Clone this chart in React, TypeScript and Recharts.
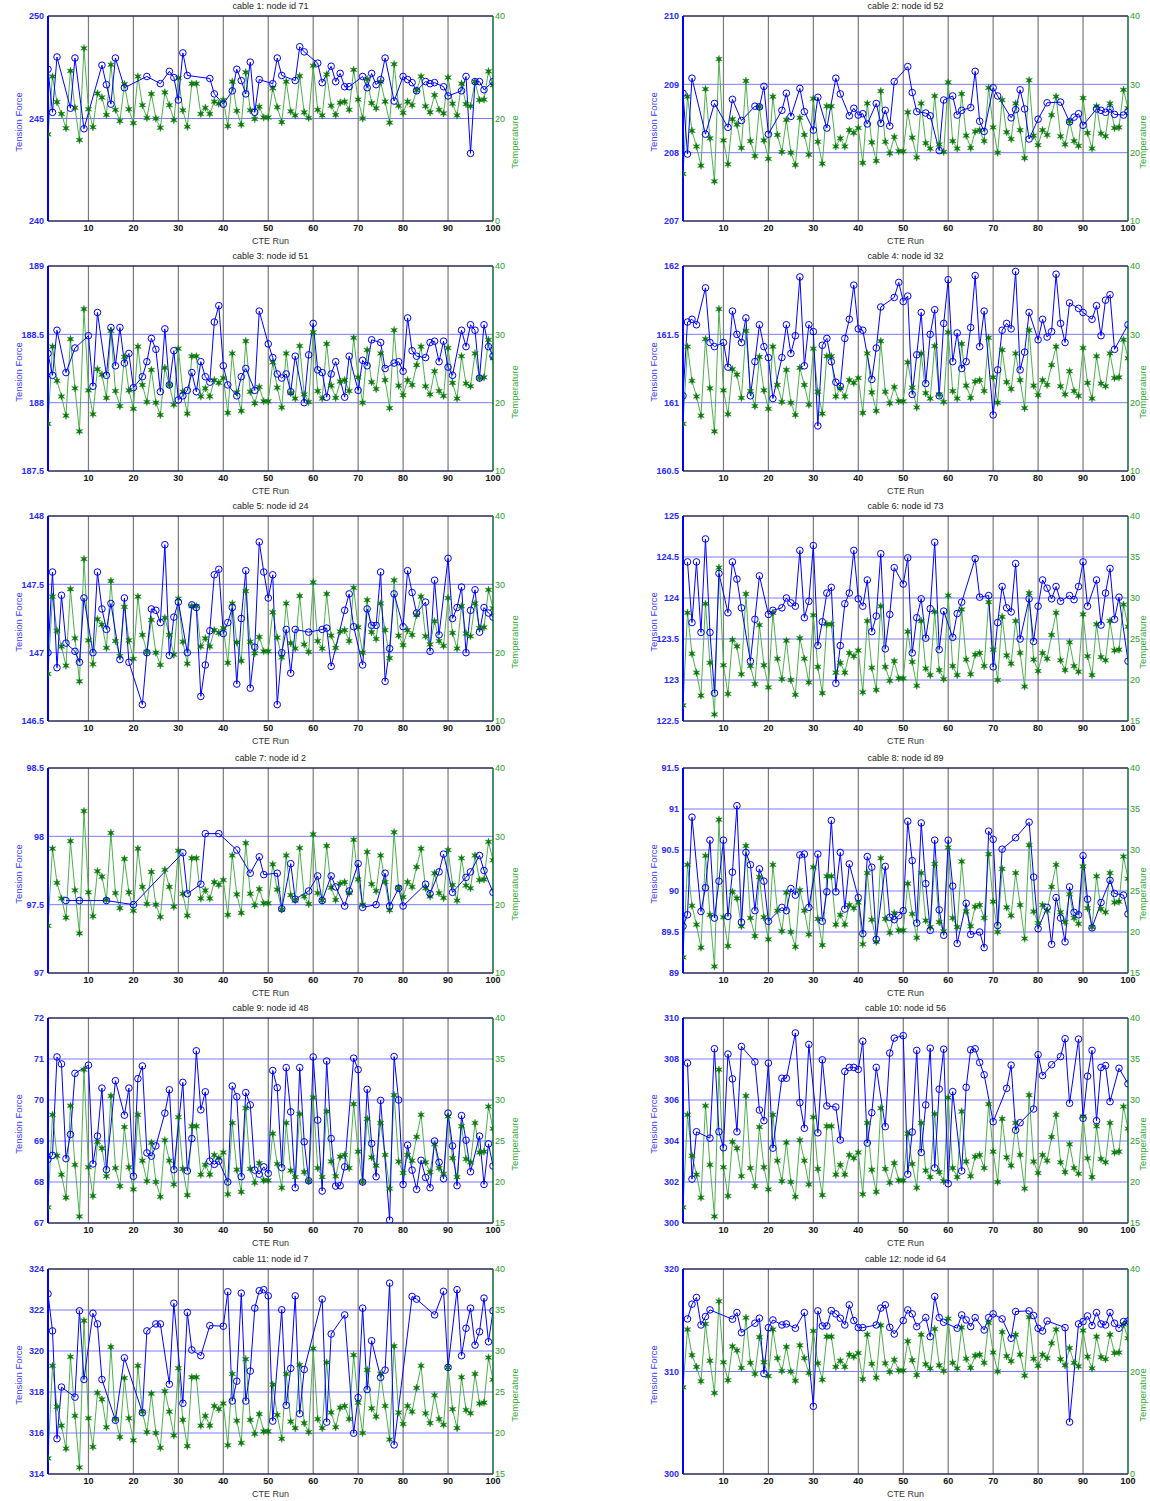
import { CartesianGrid, Line, LineChart, ReferenceLine, XAxis, YAxis } from "recharts";

// CTE runs 1..100 on the x axis
const runs = Array.from({ length: 100 }, (_, i) => i + 1);
const xTicks = [10, 20, 30, 40, 50, 60, 70, 80, 90, 100];
const gridRuns = [10, 20, 30, 40, 50, 60, 70, 80, 90];

// temperature is the same for every cable
const temperature = [
  16.9, 28.2, 23.2, 20.9, 18.1, 29.3, 22.1, 15.8, 33.7, 21.8,
  18.3, 24.9, 24.1, 20.7, 30.5, 21.7, 19.5, 26.7, 21.8, 19.1,
  28.2, 22.6, 20.1, 24.8, 20.0, 18.2, 25.1, 22.6, 19.7, 27.9,
  21.6, 18.4, 26.8, 26.8, 20.9, 22.1, 20.9, 23.3, 22.9, 23.6,
  18.5, 27.2, 21.5, 18.8, 29.0, 21.6, 19.9, 22.3, 20.2, 20.2,
  25.9, 22.2, 19.3, 27.2, 21.4, 20.6, 28.3, 21.2, 20.1, 30.3,
  21.7, 20.6, 28.6, 22.5, 20.7, 23.1, 23.3, 21.7, 29.5, 23.7,
  20.0, 27.7, 23.0, 22.0, 27.2, 23.3, 19.2, 30.6, 22.5, 21.1,
  23.3, 22.6, 25.5, 28.2, 22.4, 21.2, 24.6, 21.7, 21.0, 28.0,
  22.9, 20.6, 26.8, 22.8, 22.4, 27.2, 23.6, 23.7, 29.2, 26.5,
];

const tempTicksA = [0, 20, 40];
const tempTicksB = [10, 20, 30, 40];
const tempTicksC = [15, 20, 25, 30, 35, 40];

// tension force per cable, [run, value] (runs without a reading are left out)
const tension1 = [
  [1, 247.4], [2, 245.3], [3, 248.0], [6, 245.5], [7, 247.95], [9, 244.5], [13, 247.6], [14, 246.65],
  [15, 245.7], [16, 247.95], [18, 246.5], [23, 247.05], [26, 246.7], [28, 247.3], [29, 247.0], [30, 245.9],
  [31, 248.2], [32, 247.1], [37, 246.95], [38, 246.2], [40, 245.7], [42, 246.35], [43, 247.4], [44, 246.85],
  [45, 246.2], [46, 247.75], [47, 245.3], [48, 246.9], [51, 246.7], [52, 247.95], [53, 247.1], [56, 246.85],
  [57, 248.5], [58, 248.25], [61, 247.7], [62, 246.75], [64, 247.55], [65, 246.8], [66, 247.2], [67, 246.55],
  [68, 246.55], [71, 247.05], [72, 246.5], [73, 247.2], [74, 246.65], [75, 246.9], [76, 247.95], [78, 245.85],
  [80, 247.05], [81, 246.9], [82, 246.75], [83, 246.35], [85, 246.8], [86, 246.7], [87, 246.75], [89, 246.55],
  [90, 246.1], [93, 246.35], [94, 247.05], [95, 243.3], [96, 246.8], [97, 246.8], [98, 246.4], [100, 246.8],
];
const tension2 = [
  [1, 208.87], [2, 207.98], [3, 209.09], [6, 208.27], [8, 208.72], [11, 208.37], [12, 208.78], [14, 208.47],
  [17, 208.68], [18, 208.67], [19, 208.97], [20, 208.27], [23, 208.62], [24, 208.87], [25, 208.53], [27, 208.94],
  [28, 208.6], [30, 208.33], [31, 208.81], [33, 208.36], [35, 209.09], [36, 208.86], [38, 208.54], [39, 208.65],
  [40, 208.55], [41, 208.57], [42, 208.42], [44, 208.72], [45, 208.43], [46, 208.62], [47, 208.39], [48, 209.04],
  [51, 209.26], [52, 208.88], [53, 208.6], [55, 208.58], [56, 208.54], [58, 208.03], [59, 208.77], [61, 208.83],
  [62, 208.55], [63, 208.62], [65, 208.66], [66, 209.19], [67, 208.46], [68, 208.31], [70, 208.95], [71, 208.83],
  [74, 208.51], [75, 208.63], [76, 208.92], [77, 208.64], [78, 208.2], [80, 208.49], [82, 208.73], [85, 208.74],
  [87, 208.45], [88, 208.52], [89, 208.57], [90, 208.4], [93, 208.64], [94, 208.62], [95, 208.59], [96, 208.64],
  [97, 208.56], [99, 208.55], [100, 208.6],
];
const tension3 = [
  [1, 188.36], [2, 188.2], [3, 188.53], [5, 188.22], [7, 188.4], [10, 188.49], [11, 188.12], [12, 188.66],
  [14, 188.2], [15, 188.55], [16, 188.27], [17, 188.55], [18, 188.29], [19, 188.36], [20, 188.11], [22, 188.19],
  [23, 188.3], [24, 188.47], [25, 188.39], [26, 188.08], [27, 188.54], [28, 188.13], [29, 188.38], [30, 188.02],
  [31, 188.05], [32, 188.09], [33, 188.22], [34, 188.08], [35, 188.3], [36, 188.19], [37, 188.15], [38, 188.59],
  [39, 188.71], [40, 188.27], [41, 188.13], [43, 188.05], [44, 188.19], [45, 188.25], [47, 188.09], [48, 188.67],
  [50, 188.43], [51, 188.33], [52, 188.21], [53, 188.18], [54, 188.21], [55, 188.08], [56, 188.34], [58, 188.0],
  [59, 188.35], [60, 188.58], [61, 188.24], [62, 188.22], [63, 188.04], [64, 188.21], [65, 188.3], [67, 188.04],
  [68, 188.34], [70, 188.09], [71, 188.31], [72, 188.27], [73, 188.46], [75, 188.44], [76, 188.25], [78, 188.29],
  [79, 188.3], [80, 188.23], [81, 188.62], [82, 188.38], [83, 188.34], [85, 188.33], [86, 188.44], [87, 188.45],
  [88, 188.3], [89, 188.45], [90, 188.26], [91, 188.2], [93, 188.53], [94, 188.41], [95, 188.57], [96, 188.53],
  [97, 188.18], [98, 188.57], [99, 188.41], [100, 188.34],
];
const tension4 = [
  [1, 161.05], [2, 161.59], [3, 161.61], [4, 161.57], [6, 161.84], [7, 161.44], [8, 161.41], [10, 161.44],
  [11, 161.26], [12, 161.67], [13, 161.5], [14, 161.44], [15, 161.62], [16, 161.05], [17, 161.3], [18, 161.57],
  [19, 161.41], [20, 161.33], [21, 161.03], [23, 161.33], [24, 161.57], [25, 161.36], [26, 161.49], [27, 161.92],
  [28, 161.27], [29, 161.57], [30, 161.52], [31, 160.83], [32, 161.42], [33, 161.47], [34, 161.3], [35, 161.15],
  [36, 161.12], [37, 161.47], [38, 161.61], [39, 161.86], [40, 161.54], [41, 161.53], [43, 161.17], [44, 161.4],
  [45, 161.7], [48, 161.77], [49, 161.88], [50, 161.74], [51, 161.78], [52, 161.06], [53, 161.35], [54, 161.66],
  [55, 161.14], [56, 161.5], [57, 161.68], [58, 161.05], [59, 161.58], [60, 161.9], [61, 161.3], [62, 161.51],
  [63, 161.25], [64, 161.3], [65, 161.55], [66, 161.93], [67, 161.41], [68, 161.67], [70, 160.91], [71, 161.24],
  [72, 161.53], [73, 161.58], [74, 161.54], [75, 161.96], [76, 161.24], [77, 161.37], [78, 161.66], [80, 161.46],
  [81, 161.61], [82, 161.48], [83, 161.52], [84, 161.94], [85, 161.58], [86, 161.44], [87, 161.73], [89, 161.69],
  [90, 161.66], [92, 161.61], [93, 161.71], [94, 161.49], [95, 161.75], [96, 161.79], [97, 161.39], [100, 161.57],
];
const tension5 = [
  [1, 147.0], [2, 147.59], [3, 146.89], [4, 147.42], [5, 147.07], [7, 147.01], [8, 146.93], [9, 147.4],
  [11, 147.0], [12, 147.59], [13, 147.32], [14, 147.17], [15, 147.36], [17, 146.95], [18, 147.4], [19, 146.93],
  [22, 146.62], [23, 147.0], [24, 147.32], [25, 147.31], [26, 147.22], [27, 147.79], [28, 146.98], [29, 147.26],
  [30, 147.37], [32, 147.0], [33, 147.35], [34, 147.33], [35, 146.68], [36, 146.91], [37, 147.16], [38, 147.57],
  [39, 147.61], [40, 147.14], [41, 147.22], [42, 147.33], [43, 146.77], [44, 147.25], [45, 147.6], [46, 146.74],
  [47, 147.04], [48, 147.81], [49, 147.59], [50, 147.4], [51, 147.57], [52, 146.62], [53, 147.0], [54, 147.17],
  [55, 146.85], [56, 147.17], [59, 147.15], [62, 147.17], [63, 147.18], [64, 146.9], [67, 147.31], [68, 147.43],
  [69, 147.19], [71, 146.91], [72, 147.32], [73, 147.2], [74, 147.2], [75, 147.59], [76, 146.79], [77, 147.03],
  [78, 147.43], [80, 147.19], [81, 147.6], [82, 147.44], [83, 147.29], [85, 147.37], [86, 147.01], [87, 147.53],
  [88, 147.13], [90, 147.69], [91, 147.25], [92, 147.33], [93, 147.48], [94, 147.0], [95, 147.31], [96, 147.46],
  [97, 147.15], [98, 147.33], [99, 147.29], [100, 147.26],
];
const tension6 = [
  [2, 124.44], [3, 123.7], [4, 124.44], [5, 123.58], [6, 124.72], [7, 123.58], [8, 122.84], [9, 124.3],
  [11, 123.82], [12, 124.44], [13, 124.23], [14, 123.88], [16, 123.23], [17, 123.74], [18, 124.27], [20, 123.8],
  [21, 123.85], [23, 123.88], [24, 124.0], [25, 123.94], [26, 123.9], [27, 124.58], [28, 123.76], [29, 123.96],
  [30, 124.64], [31, 123.42], [32, 123.71], [33, 124.06], [34, 124.13], [35, 122.96], [36, 123.42], [37, 123.93],
  [38, 124.06], [39, 124.58], [40, 123.99], [41, 123.9], [42, 124.22], [43, 123.59], [44, 123.78], [45, 124.54],
  [46, 123.38], [47, 123.8], [48, 124.37], [50, 124.17], [51, 124.49], [52, 123.33], [53, 123.76], [54, 123.99],
  [55, 123.51], [56, 123.87], [57, 124.68], [58, 123.37], [59, 123.84], [61, 123.52], [62, 123.81], [63, 123.95],
  [66, 124.48], [67, 124.01], [69, 124.03], [70, 123.16], [71, 123.7], [72, 124.14], [73, 123.88], [74, 123.83],
  [75, 124.42], [76, 123.5], [78, 123.99], [79, 123.47], [80, 123.9], [81, 124.22], [82, 124.12], [83, 123.99],
  [84, 124.14], [85, 123.96], [87, 124.03], [88, 123.98], [89, 124.14], [90, 124.44], [91, 123.9], [93, 124.22],
  [94, 123.67], [95, 124.06], [96, 124.36], [97, 123.74], [98, 124.01], [100, 123.23],
];
const tension7 = [
  [5, 97.53], [8, 97.53], [14, 97.53], [20, 97.5], [31, 97.88], [32, 97.58], [35, 97.65], [36, 98.02],
  [39, 98.02], [43, 97.9], [46, 97.73], [48, 97.85], [49, 97.72], [52, 97.73], [53, 97.47], [55, 97.8],
  [56, 97.54], [59, 97.6], [61, 97.71], [62, 97.53], [64, 97.71], [65, 97.63], [67, 97.49], [68, 97.6],
  [70, 97.8], [71, 97.48], [74, 97.5], [76, 97.73], [77, 97.49], [79, 97.62], [80, 97.49], [85, 97.65],
  [86, 97.58], [88, 97.74], [89, 97.87], [91, 97.59], [94, 97.7], [95, 97.74], [97, 97.86], [98, 97.75],
  [100, 97.59],
];
const tension8 = [
  [1, 89.57], [2, 89.71], [3, 90.9], [5, 89.75], [6, 90.04], [7, 90.62], [8, 89.67], [9, 90.12],
  [10, 90.62], [11, 89.69], [12, 90.23], [13, 91.04], [14, 89.62], [15, 90.47], [16, 90.32], [17, 89.76],
  [18, 90.27], [19, 90.12], [20, 89.63], [23, 89.8], [24, 89.76], [25, 90.03], [26, 89.95], [27, 90.44],
  [28, 90.45], [29, 89.8], [31, 90.45], [32, 89.63], [33, 89.99], [34, 90.86], [35, 89.99], [36, 90.47],
  [37, 89.78], [38, 90.33], [40, 89.92], [41, 89.48], [42, 90.42], [43, 90.29], [44, 89.41], [46, 90.3],
  [47, 89.68], [48, 89.65], [49, 89.7], [50, 89.76], [51, 90.85], [52, 90.37], [53, 89.61], [54, 90.83],
  [55, 90.09], [56, 89.52], [57, 90.62], [58, 89.77], [59, 89.46], [60, 90.62], [61, 90.06], [62, 89.36],
  [64, 89.85], [65, 89.47], [67, 89.5], [68, 89.31], [69, 90.73], [70, 90.63], [71, 89.58], [72, 90.51],
  [75, 90.65], [78, 90.84], [79, 90.17], [80, 89.54], [82, 89.8], [83, 89.35], [84, 89.92], [85, 89.67],
  [86, 89.38], [87, 90.05], [88, 89.74], [89, 89.71], [90, 90.43], [91, 89.9], [92, 89.55], [94, 89.86],
  [96, 90.13], [97, 89.97], [99, 89.95], [100, 89.72],
];
const tension9 = [
  [1, 68.55], [2, 68.65], [3, 71.05], [4, 70.88], [5, 68.57], [6, 69.16], [7, 70.65], [10, 70.85],
  [11, 68.44], [12, 69.12], [13, 70.29], [14, 68.3], [16, 70.47], [18, 69.63], [19, 70.29], [20, 68.14],
  [21, 70.52], [22, 70.83], [23, 68.71], [24, 68.63], [25, 68.88], [27, 69.68], [28, 70.25], [29, 68.3],
  [31, 70.43], [32, 68.27], [33, 69.06], [34, 71.2], [35, 69.76], [36, 70.2], [37, 68.51], [38, 68.43],
  [39, 68.51], [41, 68.0], [42, 70.34], [43, 70.08], [44, 68.13], [45, 70.18], [46, 69.88], [47, 68.29],
  [48, 68.19], [49, 68.37], [50, 68.21], [51, 70.72], [52, 70.3], [53, 68.35], [54, 70.79], [55, 69.71],
  [56, 67.86], [57, 70.79], [58, 68.98], [59, 68.03], [60, 71.05], [61, 69.51], [62, 67.78], [63, 70.95],
  [64, 69.06], [65, 67.9], [66, 67.91], [67, 68.37], [69, 71.02], [70, 70.74], [71, 68.0], [72, 70.26],
  [73, 68.94], [74, 68.13], [75, 69.99], [77, 67.07], [78, 71.06], [79, 70.0], [80, 67.94], [81, 68.9],
  [82, 68.29], [83, 67.82], [84, 68.53], [85, 68.11], [86, 67.86], [87, 69.0], [88, 68.48], [89, 68.08],
  [90, 69.68], [91, 68.88], [92, 67.91], [93, 69.62], [94, 69.02], [95, 68.25], [97, 69.12], [98, 67.94],
  [99, 68.93], [100, 68.39],
];
const tension10 = [
  [2, 307.8], [3, 302.14], [4, 304.45], [7, 304.14], [8, 308.5], [9, 304.45], [10, 303.67], [11, 308.24],
  [12, 307.03], [13, 304.45], [14, 308.61], [17, 307.86], [18, 305.51], [19, 304.99], [20, 307.8], [21, 303.65],
  [23, 307.06], [24, 307.06], [26, 309.27], [27, 305.87], [28, 304.62], [29, 308.71], [31, 304.4], [32, 307.96],
  [33, 305.71], [35, 305.66], [36, 304.05], [37, 307.39], [38, 307.59], [39, 307.59], [40, 307.49], [41, 308.87],
  [42, 303.9], [43, 305.38], [44, 307.59], [46, 304.7], [47, 308.29], [48, 309.02], [50, 309.14], [51, 302.38],
  [52, 304.44], [53, 308.42], [54, 303.44], [55, 305.76], [56, 308.53], [57, 302.69], [58, 306.53], [59, 308.48],
  [60, 301.92], [61, 306.41], [63, 302.54], [64, 306.62], [65, 308.45], [66, 308.5], [67, 307.83], [68, 307.23],
  [70, 304.94], [73, 306.57], [74, 307.7], [75, 304.53], [76, 304.89], [79, 305.56], [80, 308.21], [81, 307.19],
  [83, 307.72], [85, 308.12], [86, 308.99], [87, 305.84], [89, 308.97], [90, 305.11], [91, 307.16], [92, 308.42],
  [93, 304.99], [94, 307.59], [95, 307.68], [96, 305.92], [98, 307.55], [100, 306.79],
];
const tension11 = [
  [1, 322.79], [2, 320.98], [3, 315.72], [4, 318.24], [7, 317.75], [8, 321.96], [9, 318.61], [11, 321.84],
  [12, 321.32], [13, 318.61], [16, 316.62], [18, 319.67], [22, 316.99], [23, 320.98], [25, 321.32], [26, 321.32],
  [28, 318.38], [29, 322.33], [31, 317.45], [32, 321.88], [33, 320.05], [35, 319.77], [37, 321.24], [40, 321.21],
  [41, 322.89], [42, 317.56], [43, 318.53], [44, 322.82], [45, 317.56], [46, 319.02], [47, 322.09], [48, 322.94],
  [49, 322.99], [50, 322.69], [51, 316.58], [53, 322.01], [54, 317.35], [55, 319.15], [56, 322.69], [57, 316.94],
  [58, 319.1], [62, 322.53], [63, 316.53], [64, 320.83], [67, 321.76], [69, 315.99], [70, 317.73], [71, 322.09],
  [72, 318.12], [73, 320.5], [75, 318.71], [76, 319.07], [77, 323.31], [78, 315.42], [82, 322.66], [83, 322.53],
  [87, 321.76], [89, 322.91], [90, 319.2], [92, 322.99], [93, 319.77], [94, 321.11], [95, 322.09], [96, 320.29],
  [97, 320.94], [98, 322.58], [99, 320.45], [100, 321.96],
];
const tension12 = [
  [2, 315.13], [3, 316.57], [4, 317.22], [5, 314.54], [6, 315.36], [7, 316.01], [12, 315.1], [13, 315.75],
  [14, 313.79], [17, 314.71], [18, 315.2], [19, 309.8], [20, 314.28], [21, 315.03], [23, 314.54], [24, 314.64],
  [26, 314.22], [28, 315.75], [30, 306.6], [31, 315.92], [32, 314.44], [33, 314.44], [34, 315.95], [35, 315.62],
  [36, 315.2], [37, 314.54], [38, 316.5], [39, 314.97], [40, 314.28], [41, 314.28], [44, 314.54], [45, 316.18],
  [46, 316.5], [47, 314.31], [48, 313.66], [50, 314.97], [51, 316.01], [52, 315.62], [53, 314.38], [55, 315.26],
  [56, 313.4], [57, 317.32], [58, 315.26], [59, 314.8], [62, 314.22], [63, 315.52], [64, 315.03], [65, 314.38],
  [66, 315.26], [68, 314.05], [69, 315.26], [70, 315.62], [72, 315.13], [74, 313.24], [75, 315.85], [78, 315.92],
  [79, 315.46], [80, 314.22], [81, 313.95], [82, 314.93], [86, 314.28], [87, 305.07], [89, 314.64], [90, 314.87],
  [91, 315.42], [92, 314.48], [93, 315.75], [94, 314.64], [95, 314.54], [96, 315.75], [97, 314.71], [98, 314.22],
  [99, 314.87], [100, 314.93],
];

const titles = [
  "cable 1: node id 71", "cable 2: node id 52", "cable 3: node id 51", "cable 4: node id 32",
  "cable 5: node id 24", "cable 6: node id 73", "cable 7: node id 2", "cable 8: node id 89",
  "cable 9: node id 48", "cable 10: node id 56", "cable 11: node id 7", "cable 12: node id 64",
];

const forceTicks1 = [240, 245, 250];
const forceTicks2 = [207, 208, 209, 210];
const forceTicks3 = [187.5, 188, 188.5, 189];
const forceTicks4 = [160.5, 161, 161.5, 162];
const forceTicks5 = [146.5, 147, 147.5, 148];
const forceTicks6 = [122.5, 123, 123.5, 124, 124.5, 125];
const forceTicks7 = [97, 97.5, 98, 98.5];
const forceTicks8 = [89, 89.5, 90, 90.5, 91, 91.5];
const forceTicks9 = [67, 68, 69, 70, 71, 72];
const forceTicks10 = [300, 302, 304, 306, 308, 310];
const forceTicks11 = [314, 316, 318, 320, 322, 324];
const forceTicks12 = [300, 310, 320];

const panels = [
  { title: titles[0], tension: tension1, forceTicks: forceTicks1, tempTicks: tempTicksA },
  { title: titles[1], tension: tension2, forceTicks: forceTicks2, tempTicks: tempTicksB },
  { title: titles[2], tension: tension3, forceTicks: forceTicks3, tempTicks: tempTicksB },
  { title: titles[3], tension: tension4, forceTicks: forceTicks4, tempTicks: tempTicksB },
  { title: titles[4], tension: tension5, forceTicks: forceTicks5, tempTicks: tempTicksB },
  { title: titles[5], tension: tension6, forceTicks: forceTicks6, tempTicks: tempTicksC },
  { title: titles[6], tension: tension7, forceTicks: forceTicks7, tempTicks: tempTicksB },
  { title: titles[7], tension: tension8, forceTicks: forceTicks8, tempTicks: tempTicksC },
  { title: titles[8], tension: tension9, forceTicks: forceTicks9, tempTicks: tempTicksC },
  { title: titles[9], tension: tension10, forceTicks: forceTicks10, tempTicks: tempTicksC },
  { title: titles[10], tension: tension11, forceTicks: forceTicks11, tempTicks: tempTicksC },
  { title: titles[11], tension: tension12, forceTicks: forceTicks12, tempTicks: tempTicksA },
];

const PLOT_W = 445;
const PLOT_H = 205;
const AXIS_W = 45;
const X_H = 25;
const TOP_PAD = 10;
const rowTops = [16, 266, 516, 768, 1018, 1269];
const colLefts = [48, 683];
const tempLabelGap = [21, 14];

const BLUE = "#0000ff";
const GREEN_LINE = "#4fb04f";
const GREEN_MARK = "#0b7a0b";

const buildRows = (pairs) => {
  const byRun = new Map(pairs.map((p) => [p[0], p[1]]));
  return runs.map((run, i) => ({
    run,
    tension: byRun.has(run) ? byRun.get(run) : null,
    temp: temperature[i],
  }));
};

const starPoints = (cx, cy) => {
  const pts = [];
  for (let k = 0; k < 12; k++) {
    const r = k % 2 === 0 ? 3.8 : 1.5;
    const a = -Math.PI / 2 + (k * Math.PI) / 6;
    pts.push(`${(cx + r * Math.cos(a)).toFixed(2)},${(cy + r * Math.sin(a)).toFixed(2)}`);
  }
  return pts.join(" ");
};

const StarDot = (props) => {
  const { cx, cy, index } = props;
  if (cx == null || cy == null || Number.isNaN(cy)) return <g key={`s-${index}`} />;
  return <polygon key={`s-${index}`} points={starPoints(cx, cy)} fill={GREEN_MARK} stroke={GREEN_MARK} strokeWidth={0.4} />;
};

const CircleDot = (props) => {
  const { cx, cy, index, value } = props;
  if (cx == null || cy == null || value == null || Number.isNaN(cy)) return <g key={`c-${index}`} />;
  return <circle key={`c-${index}`} cx={cx} cy={cy} r={3.3} fill="none" stroke={BLUE} strokeWidth={1} />;
};

function Panel({ p, left, top, col }) {
  const data = buildRows(p.tension);
  const fMin = p.forceTicks[0];
  const fMax = p.forceTicks[p.forceTicks.length - 1];
  const tMin = p.tempTicks[0];
  const tMax = p.tempTicks[p.tempTicks.length - 1];
  return (
    <>
      <div
        style={{
          position: "absolute",
          left,
          top: top - 16,
          width: PLOT_W,
          textAlign: "center",
          fontSize: 9,
          lineHeight: "12px",
          color: "#222",
        }}
      >
        {p.title}
      </div>
      <div style={{ position: "absolute", left: left - AXIS_W, top: top - TOP_PAD }}>
        <LineChart
          width={PLOT_W + 2 * AXIS_W}
          height={PLOT_H + X_H + TOP_PAD}
          data={data}
          margin={{ top: TOP_PAD, right: 0, bottom: 0, left: 0 }}
        >
          <CartesianGrid yAxisId="left" vertical={false} stroke="#6b6bff" strokeWidth={0.9} />
          {gridRuns.map((r) => (
            <ReferenceLine key={r} x={r} yAxisId="left" stroke="#7a7a7a" strokeWidth={1.2} />
          ))}
          <ReferenceLine y={fMax} yAxisId="left" stroke="#000" strokeWidth={1} />
          <XAxis
            dataKey="run"
            type="number"
            domain={[1, 100]}
            ticks={xTicks}
            height={X_H}
            tickLine={false}
            tickSize={2}
            tickMargin={2}
            axisLine={{ stroke: "#000", strokeWidth: 1 }}
            tick={{ fontSize: 9, fill: "#111", fontWeight: 700 }}
            allowDataOverflow
          />
          <YAxis
            yAxisId="left"
            orientation="left"
            width={AXIS_W}
            domain={[fMin, fMax]}
            ticks={p.forceTicks}
            tickLine={false}
            tickSize={2}
            tickMargin={2}
            axisLine={{ stroke: BLUE, strokeWidth: 2 }}
            tick={{ fontSize: 9, fill: "#2a2aff", fontWeight: 700 }}
            allowDataOverflow
          />
          <YAxis
            yAxisId="right"
            orientation="right"
            width={AXIS_W}
            domain={[tMin, tMax]}
            ticks={p.tempTicks}
            tickLine={false}
            tickSize={1}
            tickMargin={1}
            axisLine={{ stroke: "#0a6a30", strokeWidth: 1.5 }}
            tick={{ fontSize: 9, fill: "#2aa02a" }}
            allowDataOverflow
          />
          <Line
            yAxisId="right"
            dataKey="temp"
            stroke={GREEN_LINE}
            strokeWidth={1}
            dot={StarDot}
            activeDot={false}
            isAnimationActive={false}
          />
          <Line
            yAxisId="left"
            dataKey="tension"
            stroke={BLUE}
            strokeWidth={1}
            connectNulls
            dot={CircleDot}
            activeDot={false}
            isAnimationActive={false}
          />
        </LineChart>
      </div>
      <div
        style={{
          position: "absolute",
          left,
          top: top + PLOT_H + 14,
          width: PLOT_W,
          textAlign: "center",
          fontSize: 9,
          lineHeight: "12px",
          color: "#333",
        }}
      >
        CTE Run
      </div>
      <div
        style={{
          position: "absolute",
          left: left - 30,
          top: top + 106,
          transform: "translate(-50%, -50%) rotate(-90deg)",
          whiteSpace: "nowrap",
          fontSize: 9.5,
          color: "#3a3aff",
        }}
      >
        Tension Force
      </div>
      <div
        style={{
          position: "absolute",
          left: left + PLOT_W + tempLabelGap[col],
          top: top + 126,
          transform: "translate(-50%, -50%) rotate(-90deg)",
          whiteSpace: "nowrap",
          fontSize: 9.5,
          color: "#33a833",
        }}
      >
        Temperature
      </div>
    </>
  );
}

export default function App() {
  return (
    <div
      style={{
        position: "absolute",
        left: 0,
        top: 0,
        width: 1150,
        height: 1501,
        overflow: "hidden",
        background: "#fff",
        fontFamily: "'Liberation Sans', Arial, sans-serif",
      }}
    >
      {panels.map((p, i) => (
        <Panel key={i} p={p} col={i % 2} left={colLefts[i % 2]} top={rowTops[Math.floor(i / 2)]} />
      ))}
    </div>
  );
}
